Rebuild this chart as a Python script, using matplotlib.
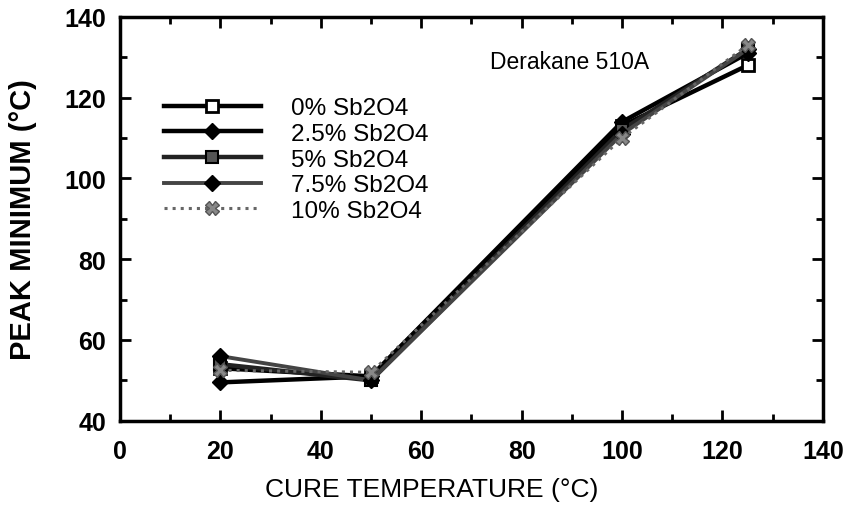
import matplotlib.pyplot as plt
from matplotlib.ticker import MultipleLocator

plt.rcParams['font.family'] = ['Liberation Sans', 'DejaVu Sans']

cure_temp = [20, 50, 100, 125]
labels = ["0% Sb2O4", "2.5% Sb2O4", "5% Sb2O4", "7.5% Sb2O4", "10% Sb2O4"]
peak_0 = [53, 51, 113, 128]
peak_25 = [49.5, 51, 114, 131]
peak_5 = [54, 50, 112, 132]
peak_75 = [56, 50, 111, 132]
peak_10 = [52.5, 52, 110, 133]
series = [peak_0, peak_25, peak_5, peak_75, peak_10]

styles = [
    dict(color="black", lw=3.2, ls="-", marker="s", mfc="white", mec="black", ms=8, mew=2),
    dict(color="black", lw=3.2, ls="-", marker="D", mfc="black", mec="black", ms=8),
    dict(color="#222222", lw=3.2, ls="-", marker="s", mfc="#555555", mec="black", ms=8, mew=1.5),
    dict(color="#444444", lw=2.8, ls="-", marker="D", mfc="black", mec="black", ms=8),
    dict(color="#666666", lw=2.2, ls=":", marker="X", mfc="#888888", mec="#555555", ms=10),
]

fig = plt.figure(figsize=(8.51, 5.10), dpi=100)
ax = fig.add_axes([0.141, 0.173, 0.826, 0.792])

for vals, lab, st in zip(series, labels, styles):
    ax.plot(cure_temp, vals, label=lab, **st)

ax.set_xlim(0, 140)
ax.set_ylim(40, 140)
ax.xaxis.set_major_locator(MultipleLocator(20))
ax.xaxis.set_minor_locator(MultipleLocator(10))
ax.yaxis.set_major_locator(MultipleLocator(20))
ax.yaxis.set_minor_locator(MultipleLocator(10))
ax.tick_params(which="both", direction="in", top=True, right=True, width=2)
ax.tick_params(which="major", length=8, labelsize=18)
ax.tick_params(axis="x", which="major", pad=13)
ax.tick_params(axis="y", which="major", pad=10)
ax.tick_params(which="minor", length=5)
for lab in ax.get_xticklabels() + ax.get_yticklabels():
    lab.set_fontweight("bold")
for sp in ax.spines.values():
    sp.set_linewidth(2.5)

ax.set_xlabel("CURE TEMPERATURE (°C)", fontsize=19)
ax.xaxis.set_label_coords(0.443, -0.139)
ax.set_ylabel("PEAK MINIMUM (°C)", fontsize=21, fontweight="bold")
ax.yaxis.set_label_coords(-0.118, 0.5)
ax.text(0.527, 0.89, "Derakane 510A", transform=ax.transAxes, fontsize=16.5,
        va="center")

leg = ax.legend(loc="upper left", bbox_to_anchor=(0.031, 0.855), frameon=False,
                prop=dict(size=17.5), handlelength=4.0, handletextpad=1.25,
                labelspacing=0.15)

fig.savefig("out.png", dpi=100)
